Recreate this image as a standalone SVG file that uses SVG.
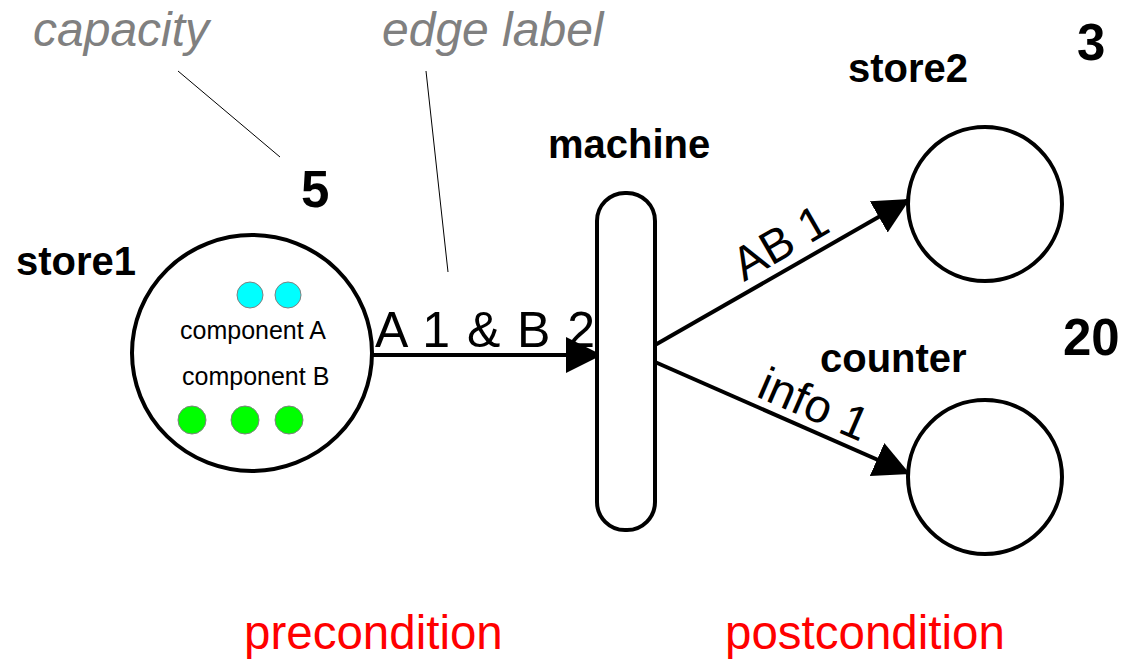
<svg xmlns="http://www.w3.org/2000/svg" width="1129" height="661" viewBox="0 0 1129 661">
  <style>
    .node { fill: #ffffff; stroke: #000000; stroke-width: 4; }
    .name { font-family: "Liberation Sans", Arial, sans-serif; font-weight: bold; font-size: 40px; fill: #000000; }
    .cap { font-family: "Liberation Sans", Arial, sans-serif; font-weight: bold; font-size: 51px; fill: #000000; }
    .note { font-family: "Liberation Sans", Arial, sans-serif; font-style: italic; font-size: 48px; fill: #808080; }
    .elabel { font-family: "Liberation Sans", Arial, sans-serif; font-size: 47px; fill: #000000; }
    .comp { font-family: "Liberation Sans", Arial, sans-serif; font-size: 25px; fill: #000000; }
    .phase { font-family: "Liberation Sans", Arial, sans-serif; font-size: 47.5px; fill: #ff0000; }
    .edge { fill: none; stroke: #000000; stroke-width: 4; }
    .leader { fill: none; stroke: #000000; stroke-width: 1; }
    .tokA { fill: #00ffff; stroke: #808080; stroke-width: 1; }
    .tokB { fill: #00ff00; stroke: #808080; stroke-width: 1; }
  </style>
  <defs>
    <marker id="arrow" markerWidth="9" markerHeight="9" refX="9" refY="4.5" orient="auto" markerUnits="strokeWidth">
      <path d="M0,0 L9,4.5 L0,9 Z" fill="#000000"/>
    </marker>
  </defs>
  <rect width="1129" height="661" fill="#ffffff"/>

  <!-- annotations -->
  <g id="annotations">
    <text class="note" x="33" y="46">capacity</text>
    <text class="note" x="382" y="46">edge label</text>
    <line class="leader" x1="178" y1="71" x2="280" y2="157"/>
    <line class="leader" x1="426" y1="71" x2="448" y2="272"/>
  </g>

  <!-- connectors -->
  <g id="connectors">
    <line class="edge" x1="373" y1="355" x2="602" y2="355" marker-end="url(#arrow)"/>
    <line class="edge" x1="655" y1="345" x2="910" y2="199" marker-end="url(#arrow)"/>
    <line class="edge" x1="655" y1="362" x2="910" y2="474" marker-end="url(#arrow)"/>
    <text class="elabel" x="375" y="347" style="font-size:50px" textLength="220" lengthAdjust="spacing">A 1 &amp; B 2</text>
    <text class="elabel" x="0" y="0" transform="translate(744,282) rotate(-30)">AB 1</text>
    <text class="elabel" x="0" y="0" transform="translate(755,396) rotate(23.5)">info 1</text>
  </g>

  <!-- store1 -->
  <g id="store1">
    <ellipse class="node" cx="252" cy="353" rx="120" ry="118"/>
    <text class="name" x="16" y="275">store1</text>
    <text class="cap" x="301" y="207">5</text>
    <circle class="tokA" cx="250" cy="295" r="13"/>
    <circle class="tokA" cx="288" cy="295" r="13"/>
    <text class="comp" x="180" y="339">component A</text>
    <text class="comp" x="182" y="385">component B</text>
    <circle class="tokB" cx="192" cy="420" r="14"/>
    <circle class="tokB" cx="245" cy="420" r="14"/>
    <circle class="tokB" cx="289" cy="420" r="14"/>
  </g>

  <!-- machine -->
  <g id="machine">
    <rect class="node" x="597" y="193" width="58" height="337" rx="28" ry="28"/>
    <text class="name" x="548" y="158">machine</text>
  </g>

  <!-- store2 -->
  <g id="store2">
    <circle class="node" cx="985" cy="204" r="77"/>
    <text class="name" x="848" y="82">store2</text>
    <text class="cap" x="1077" y="60">3</text>
  </g>

  <!-- counter -->
  <g id="counter">
    <circle class="node" cx="985" cy="477" r="77"/>
    <text class="name" x="820" y="372">counter</text>
    <text class="cap" x="1063" y="355">20</text>
  </g>

  <!-- phases -->
  <g id="phases">
    <text class="phase" x="244" y="649">precondition</text>
    <text class="phase" x="725" y="649">postcondition</text>
  </g>
</svg>
